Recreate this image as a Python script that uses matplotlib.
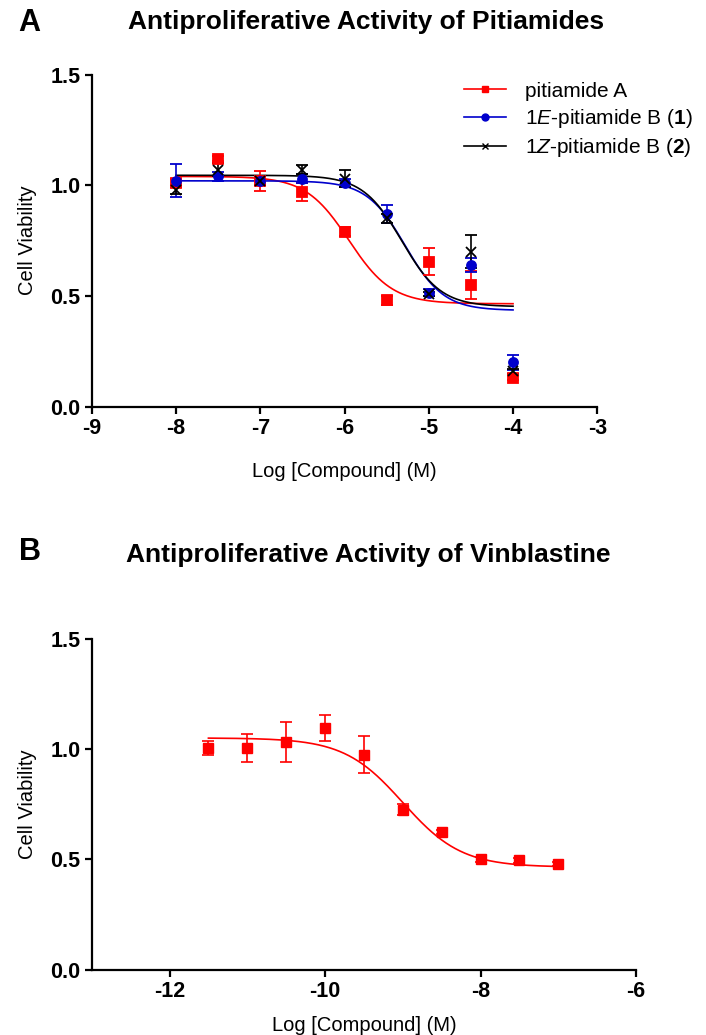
import matplotlib
matplotlib.use("Agg")
import matplotlib.pyplot as plt
import numpy as np

plt.rcParams["font.family"] = ["Liberation Sans", "DejaVu Sans"]
plt.rcParams["axes.unicode_minus"] = False
plt.rcParams["mathtext.fontset"] = "custom"
plt.rcParams["mathtext.rm"] = "Liberation Sans"
plt.rcParams["mathtext.it"] = "Liberation Sans:italic"
plt.rcParams["mathtext.bf"] = "Liberation Sans:bold"

# Panel A: pitiamides
log_conc_a = [-8, -7.5, -7, -6.5, -6, -5.5, -5, -4.5, -4]
pit_a_mean = [1.01, 1.12, 1.02, 0.97, 0.79, 0.48, 0.655, 0.55, 0.13]
pit_a_err = [0.02, 0.01, 0.045, 0.04, 0.02, 0.02, 0.06, 0.065, 0.01]
pit_e_mean = [1.02, 1.04, 1.02, 1.03, 1.01, 0.87, 0.515, 0.64, 0.20]
pit_e_err = [0.075, 0.02, 0.02, 0.02, 0.02, 0.04, 0.015, 0.03, 0.035]
pit_z_mean = [0.98, 1.07, 1.02, 1.07, 1.03, 0.85, 0.51, 0.70, 0.16]
pit_z_err = [0.02, 0.03, 0.02, 0.02, 0.04, 0.02, 0.01, 0.075, 0.01]

# 4PL fit parameters: top, bottom, logEC50, hill
fit_pit_a = [1.04, 0.465, -5.95, 1.7]
fit_pit_e = [1.02, 0.435, -5.28, 1.9]
fit_pit_z = [1.045, 0.452, -5.32, 1.87]

# Panel B: vinblastine
log_conc_b = [-11.5, -11, -10.5, -10, -9.5, -9, -8.5, -8, -7.5, -7]
vin_mean = [1.005, 1.005, 1.03, 1.095, 0.975, 0.725, 0.625, 0.50, 0.495, 0.48]
vin_err = [0.03, 0.065, 0.09, 0.06, 0.085, 0.025, 0.01, 0.01, 0.01, 0.01]
fit_vin = [1.05, 0.465, -9.0, 1.15]


def four_pl(x, params):
    top, bottom, logec50, hill = params
    return bottom + (top - bottom) / (1 + 10 ** ((x - logec50) * hill))


def style_axes(ax, xlim, xticks, xpad):
    ax.set_xlim(*xlim)
    ax.set_ylim(0, 1.5)
    ax.set_xticks(xticks)
    ax.set_yticks([0.0, 0.5, 1.0, 1.5])
    ax.set_yticklabels(["0.0", "0.5", "1.0", "1.5"])
    for side in ("top", "right"):
        ax.spines[side].set_visible(False)
    for side in ("left", "bottom"):
        ax.spines[side].set_linewidth(1.6)
    ax.tick_params(direction="out", length=5, width=1.6, labelsize=15.5, pad=3)
    for lbl in ax.get_xticklabels() + ax.get_yticklabels():
        lbl.set_fontweight("bold")
    ax.set_xlabel("Log [Compound] (M)", fontsize=14.5, labelpad=xpad)
    ax.set_ylabel("Cell Viability", fontsize=14.5, labelpad=10)


fig = plt.figure(figsize=(7.06, 10.35), dpi=100)
ax_a = fig.add_axes([0.130, 0.607, 0.716, 0.321])
ax_b = fig.add_axes([0.130, 0.063, 0.771, 0.320])

series = [
    (pit_a_mean, pit_a_err, fit_pit_a, "#ff0000", "s", 6.5, "pitiamide A"),
    (pit_e_mean, pit_e_err, fit_pit_e, "#0000cc", "o", 6.5, "1$\\it{E}$-pitiamide B ($\\bf{1}$)"),
    (pit_z_mean, pit_z_err, fit_pit_z, "#000000", "x", 6.5, "1$\\it{Z}$-pitiamide B ($\\bf{2}$)"),
]
xs_a = np.linspace(min(log_conc_a), max(log_conc_a), 300)
for mean, err, fit, color, marker, ms, label in series:
    ax_a.errorbar(log_conc_a, mean, yerr=err, fmt=marker, color=color, ms=ms,
                  capsize=4, elinewidth=1.2, capthick=1.2, mew=1.3, zorder=3)
    ax_a.plot(xs_a, four_pl(xs_a, fit), color=color, lw=1.2, zorder=2)
    ax_a.plot([], [], color=color, marker=marker, ms=5, lw=1.2, label=label)

style_axes(ax_a, (-9, -3), np.arange(-9, -2, 1), 17)
ax_a.legend(loc="upper right", bbox_to_anchor=(1.225, 1.035), frameon=False,
            fontsize=15, handlelength=2.0, labelspacing=0.3, handletextpad=0.9)

xs_b = np.linspace(min(log_conc_b), max(log_conc_b), 300)
ax_b.errorbar(log_conc_b, vin_mean, yerr=vin_err, fmt="s", color="#ff0000", ms=6.5,
              capsize=4, elinewidth=1.2, capthick=1.2, zorder=3)
ax_b.plot(xs_b, four_pl(xs_b, fit_vin), color="#ff0000", lw=1.2, zorder=2)
style_axes(ax_b, (-13, -6), [-12, -10, -8, -6], 10)

fig.text(0.042, 0.978, "A", fontsize=22, fontweight="bold", va="center", ha="center")
fig.text(0.518, 0.979, "Antiproliferative Activity of Pitiamides", fontsize=19,
         fontweight="bold", va="center", ha="center")
fig.text(0.042, 0.467, "B", fontsize=22, fontweight="bold", va="center", ha="center")
fig.text(0.522, 0.464, "Antiproliferative Activity of Vinblastine", fontsize=19,
         fontweight="bold", va="center", ha="center")

fig.savefig("out.png", dpi=100)
